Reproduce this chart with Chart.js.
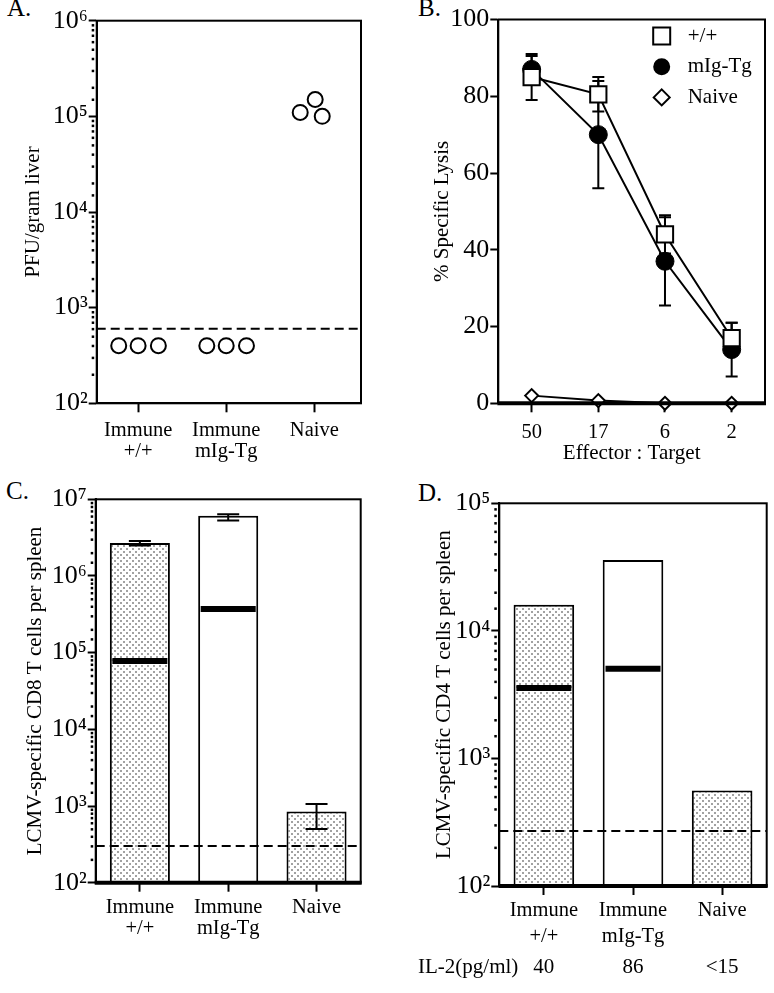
<!DOCTYPE html>
<html>
<head>
<meta charset="utf-8">
<script src="https://cdn.jsdelivr.net/npm/chart.js@4.4.1/dist/chart.umd.min.js"></script>
<style>
  body { margin: 0; background: #fff; width: 774px; height: 993px; position: relative; overflow: hidden;
         font-family: 'Liberation Serif', 'Times New Roman', serif; color: #000; }
  canvas { position: absolute; }
  .tag { position: absolute; font-size: 25px; line-height: 25px; }
</style>
</head>
<body>
<div class="tag" style="left:7px;top:-5px">A.</div>
<div class="tag" style="left:418px;top:-5px">B.</div>
<div class="tag" style="left:6px;top:478px">C.</div>
<div class="tag" style="left:418px;top:480px">D.</div>

<canvas id="chartA" width="387" height="470" style="left:0;top:0"></canvas>
<canvas id="chartB" width="384" height="470" style="left:390px;top:0"></canvas>
<canvas id="chartC" width="387" height="523" style="left:0;top:470px"></canvas>
<canvas id="chartD" width="384" height="523" style="left:390px;top:470px"></canvas>

<script>
// --- data ---
const groupLabels = [['Immune', '+/+'], ['Immune', 'mIg-Tg'], ['Naive']];

// A. virus titre per mouse
const pfuGroup  = [1, 1, 1, 2, 2, 2, 3, 3, 3];
const pfuJitter = [-0.22, 0, 0.23, -0.22, 0, 0.23, -0.16, 0.01, 0.09];
const pfuValues = [400, 400, 400, 400, 400, 400, 110000, 150000, 100000];
const pfuLimit  = 600;

// B. specific lysis
const etRatios    = ['50', '17', '6', '2'];
const lysisTicks  = [0, 20, 40, 60, 80, 100];
const lysisWT     = [85, 80.5, 44, 17];
const lysisWTErr  = [6, 4.5, 5, 4];
const lysisTg     = [87, 70, 37, 14];
const lysisTgErr  = [3.5, 14, 11.5, 7];
const lysisNaive  = [2, 0.7, 0, 0];

// C. CD8 T cells
const cd8Total = [2.7e6, 6.1e6, 850];
const cd8Low   = [2.5e6, 5.3e6, 500];
const cd8High  = [2.85e6, 6.4e6, 1060];
const cd8Inner = [7.8e4, 3.7e5, null];
const cd8Limit = 300;

// D. CD4 T cells
const cd4Total  = [1.6e4, 3.6e4, 560];
const cd4Inner  = [3560, 5050, null];
const cd4Limit  = 270;
const il2Values = ['40', '86', '<15'];

// --- helpers ---
const SERIF = "'Liberation Serif', 'Times New Roman', serif";
const SUP = ['\u2070', '\u00b9', '\u00b2', '\u00b3', '\u2074', '\u2075', '\u2076', '\u2077', '\u2078', '\u2079'];
Chart.defaults.font.family = SERIF;
Chart.defaults.color = '#000';

function isDecade(v) {
  const l = Math.log10(v);
  return Math.abs(l - Math.round(l)) < 1e-9;
}

function stipple() {
  const c = document.createElement('canvas');
  c.width = 6; c.height = 6;
  const g = c.getContext('2d');
  g.fillStyle = '#fff';
  g.fillRect(0, 0, 6, 6);
  g.fillStyle = '#a2a2a2';
  g.fillRect(0, 0, 2, 2);
  g.fillRect(3, 3, 2, 2);
  return g.createPattern(c, 'repeat');
}
const dots = stipple();

// plot box, thick baseline, dotted minor ticks on log axes
const frame = {
  id: 'frame',
  afterDraw(chart, args, o) {
    const { ctx, chartArea: a } = chart;
    ctx.save();
    ctx.strokeStyle = '#000';
    ctx.lineWidth = 2;
    ctx.strokeRect(a.left, a.top, a.right - a.left, a.bottom - a.top);
    if (o.thickBottom) {
      ctx.lineWidth = 4;
      ctx.beginPath();
      ctx.moveTo(a.left - 1, a.bottom);
      ctx.lineTo(a.right + 1, a.bottom);
      ctx.stroke();
    }
    const y = chart.scales.y;
    if (y.type === 'logarithmic') {
      ctx.fillStyle = '#000';
      y.ticks.forEach(t => {
        if (!isDecade(t.value)) ctx.fillRect(a.left - 5, y.getPixelForValue(t.value) - 1, 2.5, 2.5);
      });
    }
    ctx.restore();
  }
};

function paintErrors(chart, o) {
  const { ctx } = chart;
  const ys = chart.scales.y;
  ctx.save();
  ctx.strokeStyle = '#000';
  ctx.lineWidth = 2;
  chart.data.datasets.forEach((ds, i) => {
    if (!ds.errLow) return;
    chart.getDatasetMeta(i).data.forEach((el, j) => {
      const lo = ds.errLow[j], hi = ds.errHigh[j];
      if (lo == null || hi == null) return;
      const y1 = ys.getPixelForValue(lo), y2 = ys.getPixelForValue(hi);
      ctx.beginPath();
      ctx.moveTo(el.x, y1); ctx.lineTo(el.x, y2);
      ctx.moveTo(el.x - o.cap, y1); ctx.lineTo(el.x + o.cap, y1);
      ctx.moveTo(el.x - o.cap, y2); ctx.lineTo(el.x + o.cap, y2);
      ctx.stroke();
    });
  });
  ctx.restore();
}

const errorBars = {
  id: 'errorBars',
  beforeDatasetsDraw(chart, args, o) { if (o.cap && !o.onTop) paintErrors(chart, o); },
  afterDatasetsDraw(chart, args, o) { if (o.cap && o.onTop) paintErrors(chart, o); }
};

const limitLine = {
  id: 'limitLine',
  afterDatasetsDraw(chart, args, o) {
    if (o.value == null) return;
    const { ctx, chartArea: a } = chart;
    const y = chart.scales.y.getPixelForValue(o.value);
    ctx.save();
    ctx.setLineDash([9, 5]);
    ctx.lineWidth = 2;
    ctx.strokeStyle = '#000';
    ctx.beginPath();
    ctx.moveTo(a.left, y);
    ctx.lineTo(a.right, y);
    ctx.stroke();
    ctx.restore();
  }
};

function drawMarker(ctx, style, x, y, r) {
  ctx.beginPath();
  if (style === 'rect') ctx.rect(x - r, y - r, 2 * r, 2 * r);
  else if (style === 'rectRot') { ctx.moveTo(x, y - r); ctx.lineTo(x + r, y); ctx.lineTo(x, y + r); ctx.lineTo(x - r, y); ctx.closePath(); }
  else ctx.arc(x, y, r, 0, Math.PI * 2);
}

// legend inside the plot area (panel B)
const insetLegend = {
  id: 'insetLegend',
  afterDraw(chart, args, o) {
    if (!o.sizes) return;
    const { ctx, chartArea: a } = chart;
    ctx.save();
    ctx.font = '21px ' + SERIF;
    ctx.textBaseline = 'middle';
    ctx.lineWidth = 2;
    ctx.strokeStyle = '#000';
    chart.data.datasets.forEach((ds, i) => {
      const x = a.left + o.x, y = a.top + o.y + i * o.step;
      drawMarker(ctx, ds.pointStyle, x, y, o.sizes[i]);
      ctx.fillStyle = ds.pointBackgroundColor;
      ctx.fill();
      ctx.stroke();
      ctx.fillStyle = '#000';
      ctx.fillText(ds.label, a.left + o.textX, y);
    });
    ctx.restore();
  }
};

// extra row of text under the categories (panel D)
const valueRow = {
  id: 'valueRow',
  afterDraw(chart, args, o) {
    if (!o.values) return;
    const { ctx, chartArea: a } = chart;
    const xs = chart.scales.x;
    const y = a.bottom + o.dy;
    ctx.save();
    ctx.font = '21px ' + SERIF;
    ctx.fillStyle = '#000';
    ctx.textAlign = 'left';
    ctx.fillText(o.label, o.labelX, y);
    ctx.textAlign = 'center';
    o.values.forEach((v, i) => ctx.fillText(v, xs.getPixelForTick(i), y));
    ctx.restore();
  }
};

Chart.register(frame, errorBars, limitLine, insetLegend, valueRow);

const axisBorder = { display: true, color: '#000', width: 2 };

// fixed axis sizes so the plot boxes land where the figure has them
const fixHeight = h => s => { s.height = h; s.paddingLeft = 0; s.paddingRight = 0; };
const fixWidth = w => s => { s.width = w; };

function box(top, right) {
  // autoPadding off: big point markers would otherwise widen the margins
  return { autoPadding: false, padding: { top, right, left: 0, bottom: 0 } };
}

function logAxis(min, max, width, title, titlePad) {
  return {
    type: 'logarithmic', min, max,
    afterFit: fixWidth(width),
    border: axisBorder,
    grid: {
      drawOnChartArea: false, tickLength: 8, tickWidth: 2,
      tickColor: c => (c.tick && isDecade(c.tick.value)) ? '#000' : 'rgba(0,0,0,0)'
    },
    ticks: {
      autoSkip: false, padding: 1, font: { size: 26 },
      callback: v => isDecade(v) ? '10' + SUP[Math.round(Math.log10(v))] : ''
    },
    title: { display: true, text: title, font: { size: 21 }, padding: { top: titlePad, bottom: 0 } }
  };
}

function catAxis(height, pad, lh) {
  return {
    type: 'category', offset: true,
    afterFit: fixHeight(height),
    border: axisBorder,
    grid: { offset: false, drawOnChartArea: false, tickLength: 9, tickWidth: 2, tickColor: '#000' },
    ticks: { autoSkip: false, maxRotation: 0, padding: pad, font: { size: 20.5, lineHeight: lh + 'px' } }
  };
}

const base = {
  responsive: false,
  animation: false,
  plugins: { legend: { display: false }, tooltip: { enabled: false } }
};

// --- A ---
new Chart(document.getElementById('chartA'), {
  type: 'scatter',
  data: {
    datasets: [{
      data: pfuValues.map((v, i) => ({ x: pfuGroup[i] + pfuJitter[i], y: v })),
      pointStyle: 'circle', pointRadius: 7.5, pointBorderWidth: 2,
      pointBackgroundColor: '#fff', pointBorderColor: '#000', clip: false
    }]
  },
  options: {
    ...base,
    layout: box(20.7, 26),
    plugins: { ...base.plugins, limitLine: { value: pfuLimit } },
    scales: {
      x: {
        type: 'linear', min: 0.53, max: 3.53,
        afterFit: fixHeight(66.7),
        afterBuildTicks: s => { s.ticks = groupLabels.map((g, i) => ({ value: i + 1 })); },
        border: axisBorder,
        grid: { drawOnChartArea: false, tickLength: 9, tickWidth: 2, tickColor: '#000' },
        ticks: { autoSkip: false, maxRotation: 0, padding: 8, font: { size: 20.5, lineHeight: '21px' },
                 callback: v => groupLabels[v - 1] }
      },
      y: logAxis(100, 1e6, 96.7, 'PFU/gram liver', 20.4)
    }
  }
});

// --- B ---
const pointBase = { borderColor: '#000', borderWidth: 2, pointBorderColor: '#000', pointBorderWidth: 2, tension: 0, clip: false };
new Chart(document.getElementById('chartB'), {
  type: 'line',
  data: {
    labels: etRatios,
    datasets: [
      { ...pointBase, label: '+/+', data: lysisWT, pointStyle: 'rect', pointRadius: 11.5, pointBackgroundColor: '#fff',
        errLow: lysisWT.map((v, i) => v - lysisWTErr[i]), errHigh: lysisWT.map((v, i) => v + lysisWTErr[i]) },
      { ...pointBase, label: 'mIg-Tg', data: lysisTg, pointStyle: 'circle', pointRadius: 9, pointBorderWidth: 1, pointBackgroundColor: '#000',
        errLow: lysisTg.map((v, i) => v - lysisTgErr[i]), errHigh: lysisTg.map((v, i) => v + lysisTgErr[i]) },
      { ...pointBase, label: 'Naive', data: lysisNaive, pointStyle: 'rectRot', pointRadius: 6.5, pointBackgroundColor: '#fff' }
    ]
  },
  options: {
    ...base,
    layout: box(19.5, 9),
    plugins: {
      ...base.plugins,
      errorBars: { cap: 6, onTop: false },
      frame: { thickBottom: true },
      insetLegend: { x: 163.4, y: 16.5, step: 30.7, textX: 189.4, sizes: [8.5, 7.5, 8] }
    },
    scales: {
      x: {
        ...catAxis(66.7, 8, 24),
        ticks: { autoSkip: false, maxRotation: 0, padding: 8, font: { size: 20.5 } },
        title: { display: true, text: 'Effector : Target', font: { size: 21 }, padding: { top: 0, bottom: 4.4 } }
      },
      y: {
        type: 'linear', min: 0, max: 100,
        afterFit: fixWidth(108.3),
        afterBuildTicks: s => { s.ticks = lysisTicks.map(v => ({ value: v })); },
        border: axisBorder,
        grid: { drawOnChartArea: false, tickLength: 8, tickWidth: 2, tickColor: '#000' },
        ticks: { padding: 1, font: { size: 26 } },
        title: { display: true, text: '% Specific Lysis', font: { size: 21 }, padding: { top: 40, bottom: 0 } }
      }
    }
  }
});

// --- C / D ---
function barChart(id, total, inner, low, high, limit, yMin, yMax, yWidth, title, titlePad, pad, xHeight, lh, rightPad, topPad, extra) {
  const ds = [
    { type: 'bar', data: total, order: 1, backgroundColor: [dots, '#fff', dots], borderColor: '#000', borderWidth: 2,
      borderSkipped: 'bottom', categoryPercentage: 1, barPercentage: 0.68, errLow: low, errHigh: high },
    { type: 'line', data: inner, order: 0, showLine: false, pointStyle: 'line', pointRadius: 27.5,
      pointBorderWidth: 6, pointBorderColor: '#000', pointBackgroundColor: '#000' }
  ];
  return new Chart(document.getElementById(id), {
    type: 'bar',
    data: { labels: groupLabels, datasets: ds },
    options: {
      ...base,
      layout: box(topPad, rightPad),
      plugins: {
        ...base.plugins,
        errorBars: { cap: 11, onTop: true },
        limitLine: { value: limit },
        frame: { thickBottom: true },
        valueRow: extra || {}
      },
      scales: {
        x: catAxis(xHeight, pad, lh),
        y: logAxis(yMin, yMax, yWidth, title, titlePad)
      }
    }
  });
}

barChart('chartC', cd8Total, cd8Inner, cd8Low, cd8High, cd8Limit, 100, 1e7, 95.7,
  'LCMV-specific CD8 T cells per spleen', 22.4, 5, 110.3, 21, 26.3, 29.3);

barChart('chartD', cd4Total, cd4Inner, null, null, cd4Limit, 100, 1e5, 109.3,
  'LCMV-specific CD4 T cells per spleen', 41.4, 2.5, 107, 26, 7.3, 33.3,
  { label: 'IL-2(pg/ml)', labelX: 28, dy: 87.3, values: il2Values });
</script>
</body>
</html>
